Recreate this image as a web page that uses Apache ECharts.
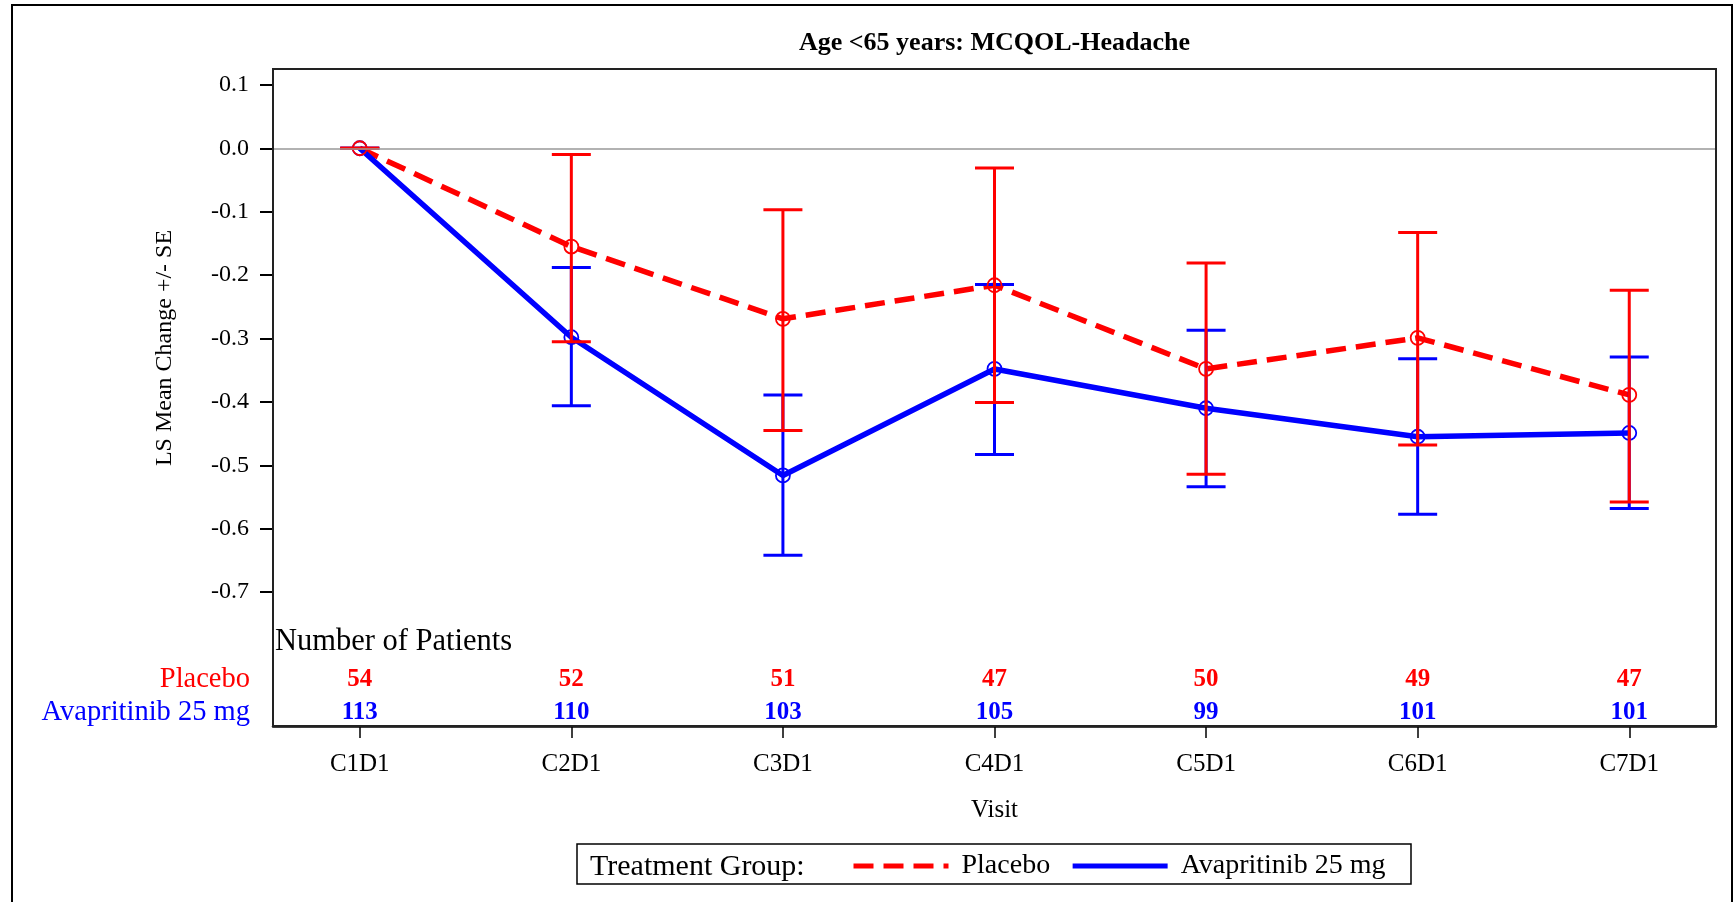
<!DOCTYPE html>
<html>
<head>
<meta charset="utf-8">
<script src="https://cdn.jsdelivr.net/npm/echarts@6/dist/echarts.min.js"></script>
<style>
  html, body { margin: 0; padding: 0; background: #fff; }
  #chart { width: 1734px; height: 902px; }
</style>
</head>
<body>
<div id="chart"></div>
<script>
// Visits on the x axis
const visits = ['C1D1', 'C2D1', 'C3D1', 'C4D1', 'C5D1', 'C6D1', 'C7D1'];

// LS mean change and mean +/- SE limits, Placebo
const placeboMean  = [0, -0.155, -0.269, -0.216, -0.348, -0.299, -0.389];
const placeboUpper = [0, -0.010, -0.097, -0.031, -0.181, -0.133, -0.224];
const placeboLower = [0, -0.305, -0.445, -0.401, -0.514, -0.468, -0.558];

// LS mean change and mean +/- SE limits, Avapritinib 25 mg
const avapMean  = [0, -0.298, -0.516, -0.348, -0.410, -0.455, -0.449];
const avapUpper = [0, -0.188, -0.389, -0.215, -0.287, -0.332, -0.329];
const avapLower = [0, -0.406, -0.642, -0.483, -0.534, -0.577, -0.568];

// Number of patients per visit
const placeboN = [54, 52, 51, 47, 50, 49, 47];
const avapN    = [113, 110, 103, 105, 99, 101, 101];

// Y tick values
const yTicks = [0.1, 0.0, -0.1, -0.2, -0.3, -0.4, -0.5, -0.6, -0.7];

const groupPlacebo = 'Placebo';
const groupAvap = 'Avapritinib 25 mg';

const FONT = "'Liberation Serif', 'Times New Roman', serif";
const RED = '#ff0000';
const BLUE = '#0000ff';

// Plot frame layout (px)
const PLOT_LEFT = 273, PLOT_TOP = 69, PLOT_W = 1443, PLOT_H = 657;
const TABLE_H = 99;                       // patient-count strip at the bottom of the frame
const MAIN_H = PLOT_H - TABLE_H;
const X_MIN = -0.41, X_MAX = 6.41;
const Y_MIN = -0.755, Y_MAX = 0.125;
const xIdx = visits.map((_, i) => i);

function errorBars(name, color, mean, lower, upper, z) {
  return {
    name: name,
    type: 'custom',
    xAxisIndex: 0,
    yAxisIndex: 0,
    z: z,
    silent: true,
    data: visits.map((_, i) => [i, mean[i], lower[i], upper[i]]),
    encode: { x: 0, y: [1, 2, 3] },
    renderItem: function (params, api) {
      const x = api.value(0);
      const pm = api.coord([x, api.value(1)]);
      const pl = api.coord([x, api.value(2)]);
      const ph = api.coord([x, api.value(3)]);
      const hw = 19.5;
      const st = { stroke: color, lineWidth: 3, fill: 'none' };
      return {
        type: 'group',
        children: [
          { type: 'line', shape: { x1: pl[0], y1: pl[1], x2: ph[0], y2: ph[1] }, style: st },
          { type: 'line', shape: { x1: pl[0] - hw, y1: pl[1], x2: pl[0] + hw, y2: pl[1] }, style: st },
          { type: 'line', shape: { x1: ph[0] - hw, y1: ph[1], x2: ph[0] + hw, y2: ph[1] }, style: st },
          { type: 'circle', shape: { cx: pm[0], cy: pm[1], r: 7 },
            style: { stroke: color, lineWidth: 1.8, fill: 'none' } }
        ]
      };
    }
  };
}

function countRow(row, color, counts) {
  return {
    name: 'Number of Patients',
    type: 'custom',
    xAxisIndex: 1,
    yAxisIndex: 1,
    silent: true,
    data: counts.map((n, i) => [i, row, n]),
    encode: { x: 0, y: 1 },
    renderItem: function (params, api) {
      const p = api.coord([api.value(0), api.value(1)]);
      return {
        type: 'text',
        x: p[0],
        y: p[1] + 3,
        style: {
          text: String(api.value(2)),
          fill: color,
          font: 'bold 25px ' + FONT,
          align: 'center',
          verticalAlign: 'middle'
        }
      };
    }
  };
}

const chart = echarts.init(document.getElementById('chart'), null, { renderer: 'canvas' });

const option = {
  animation: false,
  backgroundColor: '#fff',
  title: {
    text: 'Age <65 years: MCQOL-Headache',
    left: PLOT_LEFT + PLOT_W / 2,
    top: 30,
    textAlign: 'center',
    padding: 0,
    textStyle: { fontFamily: FONT, fontSize: 26, fontWeight: 'bold', color: '#000' }
  },
  legend: {
    data: [groupPlacebo, groupAvap],
    left: 851,
    top: 852,
    padding: 0,
    itemWidth: 95,
    itemHeight: 14,
    itemGap: 20,
    selectedMode: false,
    itemStyle: { opacity: 0 },
    lineStyle: { width: 5 },
    textStyle: { fontFamily: FONT, fontSize: 28, color: '#000', padding: [0, 0, 0, 8] }
  },
  grid: [
    { left: PLOT_LEFT, top: PLOT_TOP, width: PLOT_W, height: MAIN_H, outerBoundsMode: 'none' },
    { left: PLOT_LEFT, top: PLOT_TOP + MAIN_H, width: PLOT_W, height: TABLE_H, outerBoundsMode: 'none' }
  ],
  xAxis: [
    { gridIndex: 0, type: 'value', min: X_MIN, max: X_MAX, show: false },
    {
      gridIndex: 1, type: 'value', min: X_MIN, max: X_MAX, position: 'bottom',
      axisLine: { show: true, onZero: false, lineStyle: { color: '#000', width: 2.5 } },
      axisTick: { show: true, customValues: xIdx, length: 12, lineStyle: { color: '#000', width: 1.5 } },
      axisLabel: {
        customValues: xIdx,
        formatter: (v) => visits[Math.round(v)],
        margin: 26, fontFamily: FONT, fontSize: 25, color: '#000'
      },
      splitLine: { show: false },
      name: 'Visit', nameLocation: 'middle', nameGap: 72,
      nameTextStyle: { fontFamily: FONT, fontSize: 25, color: '#000' }
    }
  ],
  yAxis: [
    {
      gridIndex: 0, type: 'value', min: Y_MIN, max: Y_MAX,
      axisLine: { show: false, onZero: false },
      axisTick: { show: true, customValues: yTicks, length: 13, lineStyle: { color: '#000', width: 2 } },
      axisLabel: {
        customValues: yTicks,
        formatter: (v) => v.toFixed(1),
        margin: 24, fontFamily: FONT, fontSize: 24, color: '#000'
      },
      splitLine: { show: false },
      name: 'LS Mean Change +/- SE', nameLocation: 'middle', nameGap: 96,
      nameTextStyle: { fontFamily: FONT, fontSize: 24, color: '#000' }
    },
    {
      gridIndex: 1, type: 'category',
      data: [groupAvap, groupPlacebo, ''],
      axisLine: { show: false, onZero: false },
      axisTick: { show: false },
      axisLabel: {
        interval: 0,
        hideOverlap: false,
        margin: 23,
        formatter: (v) => (v === groupPlacebo ? '{p|' + v + '}' : v ? '{a|' + v + '}' : ''),
        rich: {
          p: { color: RED, fontFamily: FONT, fontSize: 28.5, padding: [6, 0, 0, 0] },
          a: { color: BLUE, fontFamily: FONT, fontSize: 28.5, padding: [6, 0, 0, 0] }
        }
      },
      splitLine: { show: false }
    }
  ],
  graphic: [
    // outer border
    { type: 'rect', shape: { x: 12, y: 5, width: 1720, height: 960 },
      style: { fill: 'none', stroke: '#000', lineWidth: 2 }, silent: true },
    // plot frame
    { type: 'rect', shape: { x: PLOT_LEFT, y: PLOT_TOP, width: PLOT_W, height: PLOT_H },
      style: { fill: 'none', stroke: '#222', lineWidth: 2 }, silent: true, z: 10 },
    // heading of the patient-count table
    { type: 'text', x: PLOT_LEFT + 2, y: PLOT_TOP + MAIN_H + 15,
      style: { text: 'Number of Patients', font: '30.5px ' + FONT, fill: '#000',
               align: 'left', verticalAlign: 'middle' }, silent: true },
    // legend box and title
    { type: 'rect', shape: { x: 577, y: 844, width: 834, height: 40 },
      style: { fill: 'none', stroke: '#000', lineWidth: 1.5 }, silent: true },
    { type: 'text', x: 590, y: 867,
      style: { text: 'Treatment Group:', font: '30px ' + FONT, fill: '#000',
               align: 'left', verticalAlign: 'middle' }, silent: true }
  ],
  series: [
    {
      name: groupPlacebo, type: 'line', xAxisIndex: 0, yAxisIndex: 0, z: 2,
      data: visits.map((_, i) => [i, placeboMean[i]]),
      symbol: 'none',
      itemStyle: { color: RED },
      lineStyle: { color: RED, width: 5.5, type: [20, 10] },
      markLine: {
        silent: true, symbol: ['none', 'none'], label: { show: false },
        lineStyle: { color: '#999', width: 1.5, type: 'solid' },
        data: [{ yAxis: 0 }]
      }
    },
    {
      name: groupAvap, type: 'line', xAxisIndex: 0, yAxisIndex: 0, z: 2,
      data: visits.map((_, i) => [i, avapMean[i]]),
      symbol: 'none',
      itemStyle: { color: BLUE },
      lineStyle: { color: BLUE, width: 5.5, type: 'solid' }
    },
    errorBars(groupAvap, BLUE, avapMean, avapLower, avapUpper, 3),
    errorBars(groupPlacebo, RED, placeboMean, placeboLower, placeboUpper, 4),
    countRow(groupPlacebo, RED, placeboN),
    countRow(groupAvap, BLUE, avapN)
  ]
};

chart.setOption(option);
</script>
</body>
</html>
